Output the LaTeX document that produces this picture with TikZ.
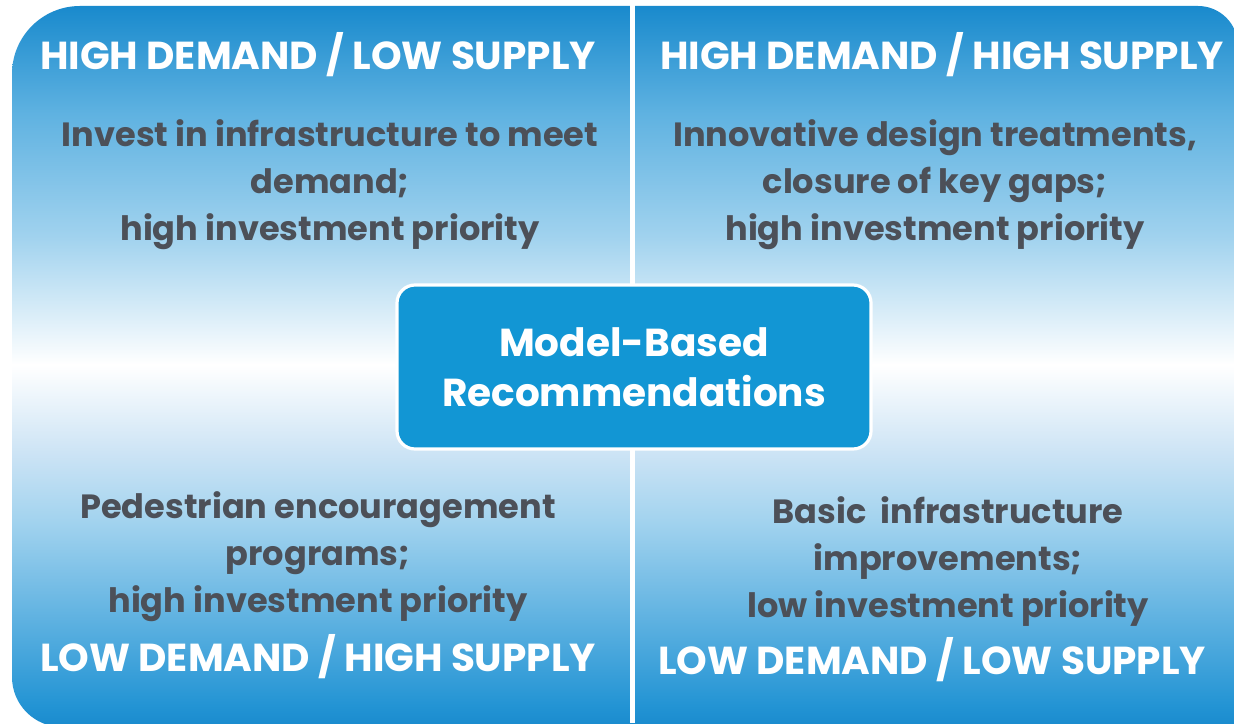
\documentclass[tikz,border=0pt]{standalone}
\usepackage{fontspec}
\setmainfont{Poppins}
\usepackage{tikz}

\definecolor{qDark}{RGB}{25,138,205}
\definecolor{qDeep}{RGB}{35,148,212}
\definecolor{qMid}{RGB}{95,178,225}
\definecolor{qLight}{RGB}{160,210,238}
\definecolor{qPale}{RGB}{205,228,245}
% shadings for the upper and lower halves (white at the middle line)
\pgfdeclareverticalshading{upperhalf}{100bp}{color(0bp)=(white); color(25bp)=(white); color(43bp)=(qLight); color(60bp)=(qMid); color(75bp)=(qDark); color(100bp)=(qDark)}
\pgfdeclareverticalshading{lowerhalf}{100bp}{color(0bp)=(qDark); color(25bp)=(qDark); color(28bp)=(qDeep); color(40bp)=(qMid); color(53bp)=(qLight); color(63bp)=(qPale); color(75bp)=(white); color(100bp)=(white)}

\begin{document}
\begin{tikzpicture}[x=0.5pt,y=0.5pt,
  headtext/.style={text=white,font=\bfseries\fontsize{19.5}{22}\selectfont,inner sep=0pt,outer sep=0pt},
  bodytext/.style={text=bodyColor,align=center,font=\bfseries\fontsize{16.8}{23.5}\selectfont,inner sep=0pt,outer sep=0pt},
  centerbox/.style={draw=white,line width=1.6pt,fill=boxColor,rounded corners=9pt,text=white,align=center,
    minimum width=237pt,minimum height=82pt,font=\bfseries\fontsize{19.5}{25}\selectfont}]
\definecolor{bodyColor}{RGB}{76,80,88}
\definecolor{boxColor}{RGB}{18,150,212}
\path[use as bounding box,fill=white] (0,0) rectangle (1234,723);

\begin{scope}
\path[clip] (12,360) [rounded corners=34] -- (12,717) -- (632,717) [rounded corners=20] -- (1238,717) -- (1238,360) [sharp corners] -- (1238,-4) [rounded corners=25] -- (12,-4) -- (12,360) -- cycle;
\path[shading=upperhalf] (0,358) rectangle (1240,717);
\path[shading=lowerhalf] (0,-4) rectangle (1240,358);
\end{scope}

% divider
\coordinate (divtop) at (632.5,723);
\coordinate (divbot) at (632.5,0);
\path[draw=white,line width=2.6pt] (divtop) -- (divbot);

\node[headtext] (hdls) at (318,668) {HIGH DEMAND / LOW SUPPLY};
\node[headtext] (hdhs) at (942,668) {HIGH DEMAND / HIGH SUPPLY};
\node[headtext] (ldhs) at (318,66) {LOW DEMAND / HIGH SUPPLY};
\node[headtext] (ldls) at (932,63) {LOW DEMAND / LOW SUPPLY};

\node[bodytext] (hdlsbody) at (330,538) {Invest in infrastructure to meet\\demand;\\high investment priority};
\node[bodytext] (hdhsbody) at (935,538) {Innovative design treatments,\\closure of key gaps;\\high investment priority};
\node[bodytext] (ldhsbody) at (318,166) {Pedestrian encouragement\\programs;\\high investment priority};
\node[bodytext] (ldlsbody) at (948,161) {Basic\ \ infrastructure\\improvements;\\low investment priority};

\node[centerbox] (mbr) at (634,356) {Model-Based\\Recommendations};
\end{tikzpicture}
\end{document}
